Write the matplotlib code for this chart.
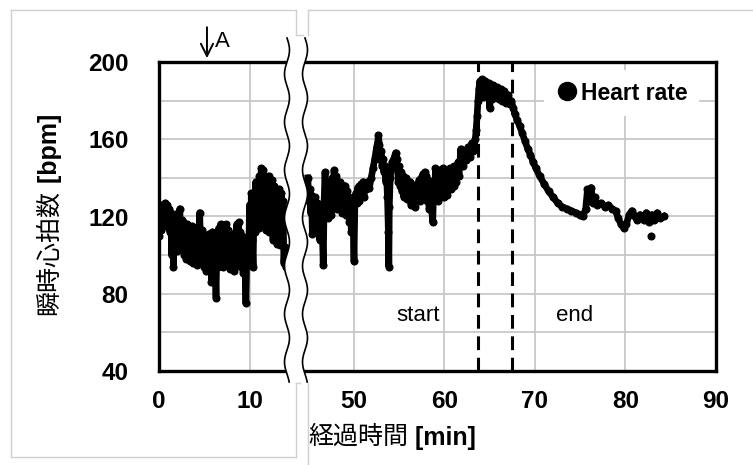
import matplotlib
matplotlib.use('Agg')
import matplotlib.pyplot as plt
import numpy as np
from matplotlib.patches import Polygon
from matplotlib.lines import Line2D
from matplotlib.ticker import FixedLocator

plt.rcParams['font.family'] = ['Liberation Sans', 'DejaVu Sans']
CJK = ['Noto Sans CJK JP', 'DejaVu Sans']

# ---------------- data ----------------
t_left = [round(i * 0.1, 1) for i in range(142)]
hr_left = [110, 122, 113, 126, 116, 124, 118, 127, 115, 126,
           118, 124, 112, 122, 100, 118, 94, 114, 105, 120,
           102, 122, 108, 124, 104, 118, 106, 117, 100, 114,
           98, 116, 102, 113, 97, 112, 100, 115, 96, 110,
           99, 106, 95, 110, 98, 122, 100, 113, 96, 111,
           94, 110, 92, 108, 95, 111, 93, 109, 86, 112,
           96, 108, 96, 78, 106, 94, 114, 97, 116, 98,
           113, 94, 112, 96, 116, 100, 113, 95, 110, 93,
           108, 96, 111, 92, 109, 95, 116, 98, 117, 96,
           112, 94, 110, 91, 106, 95, 75, 100, 108, 95,
           126, 100, 132, 108, 94, 128, 112, 138, 118, 134,
           114, 141, 120, 145, 116, 144, 122, 140, 113, 138,
           118, 141, 112, 137, 120, 139, 108, 136, 112, 132,
           106, 130, 111, 134, 105, 132, 115, 128, 96, 104,
           94, 100]

t_right = [44.9, 45.0, 45.1, 45.2, 45.3, 45.4, 45.5, 45.6, 45.7, 45.8,
           45.9, 46.0, 46.1, 46.2, 46.3, 46.4, 46.5, 46.6, 46.7, 46.8,
           46.9, 47.0, 47.1, 47.2, 47.3, 47.4, 47.5, 47.6, 47.7, 47.8,
           47.9, 48.0, 48.1, 48.2, 48.3, 48.4, 48.5, 48.6, 48.7, 48.8,
           48.9, 49.0, 49.1, 49.2, 49.3, 49.4, 49.5, 49.6, 49.7, 49.8,
           49.9, 50.0, 50.1, 50.2, 50.3, 50.4, 50.5, 50.6, 50.7, 50.8,
           50.9, 51.0, 51.1, 51.2, 51.3, 51.5, 51.7, 51.9, 52.1, 52.3,
           52.5, 52.6, 52.7, 52.8, 52.9, 53.0, 53.1, 53.2, 53.3, 53.4,
           53.5, 53.6, 53.7, 53.8, 53.85, 53.9, 54.0, 54.2, 54.4, 54.6,
           54.7, 54.8, 54.9, 55.0, 55.1, 55.2, 55.3, 55.4, 55.5, 55.6,
           55.7, 55.8, 55.9, 56.0, 56.1, 56.2, 56.3, 56.4, 56.5, 56.6,
           56.7, 56.8, 56.9, 57.0, 57.1, 57.2, 57.3, 57.4, 57.5, 57.6,
           57.7, 57.8, 57.9, 58.0, 58.1, 58.2, 58.3, 58.4, 58.5, 58.7,
           58.8, 58.9, 59.0, 59.1, 59.2, 59.3, 59.4, 59.5, 59.6, 59.7,
           59.8, 59.9, 60.0, 60.1, 60.2, 60.3, 60.4, 60.5, 60.6, 60.7,
           60.8, 60.9, 61.0, 61.1, 61.2, 61.3, 61.5, 61.6, 61.8, 62.0,
           62.2, 62.4, 62.6, 62.8, 63.0, 63.2, 63.4, 63.5, 63.6, 63.7,
           63.8, 63.9, 64.0, 64.1, 64.2, 64.3, 64.4, 64.5, 64.6, 64.7,
           64.8, 64.9, 65.0, 65.1, 65.2, 65.4, 65.6, 65.8, 66.0, 66.2,
           66.4, 66.6, 66.8, 67.0, 67.2, 67.4, 67.6, 67.8, 68.0, 68.3,
           68.6, 68.9, 69.2, 69.5, 69.8, 70.1, 70.5, 71.0, 71.5, 72.0,
           72.5, 73.0, 73.5, 74.0, 74.5, 75.0, 75.3, 75.6, 75.8, 76.0,
           76.2, 76.4, 76.6, 76.9, 77.3, 77.7, 78.1, 78.5, 78.9, 79.2,
           79.5, 79.8, 80.1, 80.4, 80.7, 81.0, 81.3, 81.6, 82.0, 82.3,
           82.6, 82.9, 83.2, 83.5, 83.8, 84.2]
hr_right = [140, 128, 134, 122, 131, 111, 128, 120, 130, 117,
            127, 114, 125, 108, 122, 118, 112, 95, 128, 143,
            125, 136, 119, 132, 122, 138, 121, 140, 126, 144,
            128, 141, 124, 137, 127, 138, 124, 135, 122, 134,
            125, 136, 121, 133, 120, 130, 117, 128, 112, 126,
            118, 97, 128, 132, 127, 135, 128, 136, 131, 137,
            132, 138, 130, 136, 134, 138, 135, 140, 145, 150,
            156, 158, 162, 157, 150, 154, 146, 150, 143, 146,
            138, 140, 130, 112, 94, 125, 140, 148, 150, 153,
            150, 145, 138, 146, 136, 143, 133, 141, 130, 139,
            132, 140, 129, 137, 131, 138, 126, 135, 127, 134,
            125, 136, 128, 137, 130, 139, 128, 140, 131, 142,
            132, 143, 130, 141, 128, 139, 124, 136, 128, 117,
            135, 129, 145, 132, 143, 128, 144, 131, 142, 133,
            145, 130, 143, 134, 144, 131, 142, 136, 145, 134,
            143, 137, 146, 136, 144, 138, 148, 141, 155, 146,
            153, 149, 156, 151, 158, 154, 160, 165, 172, 180,
            186, 190, 184, 191, 182, 189, 183, 190, 183, 188,
            182, 189, 176, 187, 181, 188, 182, 187, 181, 186,
            180, 185, 179, 183, 178, 180, 176, 173, 170, 167,
            163, 159, 155, 152, 148, 145, 141, 137, 133, 130,
            127, 125, 124, 123, 122, 121, 120, 124, 134, 128,
            135, 127, 130, 126, 127, 125, 126, 124, 123, 119,
            116, 114, 116, 121, 123, 120, 118, 121, 118, 122,
            117, 121, 118, 122, 119, 120]
outlier_t = [82.8]
outlier_hr = [110]

x_ticks_left = [0, 10]
x_ticks_right = [50, 60, 70, 80, 90]
y_ticks = [40, 80, 120, 160, 200]
event_times = [63.7, 67.5]
event_labels = ['start', 'end']
event_label_t = [57.1, 74.4]
event_label_hr = [68.5, 68.5]
arrow_time = 5.3
series_name = 'Heart rate'

# ---------------- figure ----------------
W, H = 753, 465
fig = plt.figure(figsize=(W / 100, H / 100), dpi=100)


def fx(px):
    return px / W


def fy(py):
    return 1 - py / H


scale = 9.05  # pixels per minute
L0, L1, R0, R1, TOP, BOT = 159, 290, 303, 716, 62, 371
axL = fig.add_axes([fx(L0), fy(BOT), fx(L1) - fx(L0), fy(TOP) - fy(BOT)])
axR = fig.add_axes([fx(R0), fy(BOT), fx(R1) - fx(R0), fy(TOP) - fy(BOT)])
axL.set_xlim(0, (L1 - L0) / scale)
axR.set_xlim(90 - (R1 - R0) / scale, 90)

grid_c = '#c8c8c8'
for ax, ticks in ((axL, x_ticks_left), (axR, x_ticks_right)):
    ax.set_ylim(40, 200)
    ax.set_xticks(ticks)
    ax.xaxis.set_minor_locator(FixedLocator([v + 5 for v in range(-5, 90, 10)]))
    ax.yaxis.set_major_locator(FixedLocator(y_ticks))
    ax.yaxis.set_minor_locator(FixedLocator([60, 100, 140, 180]))
    ax.grid(True, which='both', color=grid_c, lw=1.3)
    ax.set_axisbelow(True)
    ax.tick_params(which='both', length=0)
    ax.tick_params(axis='x', pad=14, labelsize=17.5)
    for lab in ax.get_xticklabels():
        lab.set_fontweight('bold')
    for sp in ax.spines.values():
        sp.set_linewidth(2.4)
        sp.set_color('black')

axL.spines['right'].set_visible(False)
axR.spines['left'].set_visible(False)
axL.tick_params(axis='y', pad=22, labelsize=17.5)
for lab in axL.get_yticklabels():
    lab.set_fontweight('bold')
axR.tick_params(axis='y', labelleft=False)

# data
axL.plot(t_left, hr_left, '-o', color='black', lw=4.8, ms=4.8, zorder=3)
axR.plot(t_right, hr_right, '-o', color='black', lw=4.8, ms=4.8, zorder=3)
axR.plot(outlier_t, outlier_hr, 'o', color='black', ms=4.8, zorder=3)

# event lines + labels
for et in event_times:
    axR.axvline(et, color='black', lw=2.2, dashes=(4.5, 2.5), zorder=4)
for lab, lt, lh in zip(event_labels, event_label_t, event_label_hr):
    axR.text(lt, lh, lab, ha='center', va='center', fontsize=16,
             bbox=dict(facecolor='white', edgecolor='none', pad=1.5), zorder=5)

# legend
leg = axR.legend(handles=[Line2D([], [], marker='o', ls='none', color='black', markersize=13)],
                 labels=[series_name], loc='center left',
                 bbox_to_anchor=(fx(533), fy(93)), bbox_transform=fig.transFigure,
                 frameon=True, facecolor='white', edgecolor='none', framealpha=1,
                 fancybox=False, prop={'weight': 'bold', 'size': 16.5},
                 handletextpad=0.1, borderpad=0.5, handlelength=1.0)
leg.set_zorder(6)

# arrow "A"
axL.annotate('', xy=(arrow_time, 202), xytext=(arrow_time, 218),
             arrowprops=dict(arrowstyle='->', lw=1.4, color='black', mutation_scale=22,
                             shrinkA=0, shrinkB=0),
             annotation_clip=False)
axL.text(arrow_time + 0.9, 210.5, 'A', fontsize=16, ha='left', va='center', clip_on=False)

# axis labels
xl1 = fig.text(fx(308), fy(437), '経過時間', family=CJK, fontsize=18,
               ha='left', va='center')
axR.annotate(' [min]', xy=(1, 0.45), xycoords=xl1, ha='left', va='center',
             fontsize=18, fontweight='bold', annotation_clip=False)
yl1 = fig.text(fx(49), fy(315), '瞬時心拍数', family=CJK, fontsize=18,
               rotation=90, ha='center', va='bottom')
axL.annotate(' [bpm]', xy=(0.55, 1), xycoords=yl1, ha='center', va='bottom',
             rotation=90, fontsize=18, fontweight='bold', annotation_clip=False)

# axis break: white band between two wavy lines
ys = np.linspace(38, 382, 240)
wl = 287 + 2.5 * np.sin((ys - 38) / 48 * 2 * np.pi)
wr = 305 + 2.5 * np.sin((ys - 38) / 48 * 2 * np.pi)
poly = np.column_stack([np.concatenate([wl, wr[::-1]]), np.concatenate([ys, ys[::-1]])])
fig.add_artist(Polygon(np.column_stack([fx(poly[:, 0]), fy(poly[:, 1])]),
                       closed=True, facecolor='white', edgecolor='none',
                       transform=fig.transFigure, zorder=10))
for w in (wl, wr):
    fig.add_artist(Line2D(fx(w), fy(ys), color='black', lw=1.2,
                          transform=fig.transFigure, zorder=11))

# light frame of the composed picture
fc = '#d0d0d0'
frame_lines = [((11, 11), (10, 457)), ((11, 296), (457, 457)), ((11, 296), (10, 10)),
               ((308, 753), (10, 10)), ((296, 296), (10, 35)), ((296, 303), (35, 35)),
               ((308, 308), (10, 35)), ((296, 296), (383, 457)), ((296, 300), (383, 383)),
               ((308, 308), (383, 465))]
for (xa, xb), (ya, yb) in frame_lines:
    fig.add_artist(Line2D([fx(xa), fx(xb)], [fy(ya), fy(yb)], color=fc, lw=1.0,
                          transform=fig.transFigure, zorder=1))

fig.savefig('out.png', dpi=100)
